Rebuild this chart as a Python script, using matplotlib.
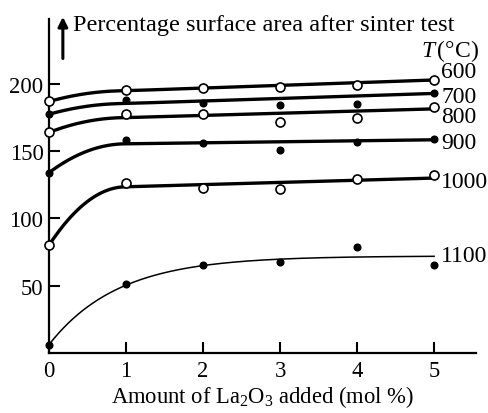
import numpy as np
import matplotlib
matplotlib.use("Agg")
import matplotlib.pyplot as plt

plt.rcParams["font.family"] = ["Liberation Serif", "DejaVu Serif"]
plt.rcParams["mathtext.fontset"] = "custom"
plt.rcParams["mathtext.rm"] = "Liberation Serif"
plt.rcParams["mathtext.it"] = "Liberation Serif:italic"

# La2O3 additions (mol %)
x_pts = [0, 1, 2, 3, 4, 5]
temps = ["600", "700", "800", "900", "1000", "1100"]

# measured surface area (%) after sintering at each temperature
s600 = [187, 195.5, 197, 198, 199.5, 203]
s700 = [177.5, 188, 186, 184.5, 185, 193]
s800 = [164, 178, 177.5, 172, 175, 183]
s900 = [134, 158.5, 156, 151, 156.5, 159]
s1000 = [80, 126.5, 122.5, 121.5, 129, 132]
s1100 = [6, 51, 65.5, 67.5, 79, 65]
series = [s600, s700, s800, s900, s1000, s1100]
open_marker = [True, False, True, False, True, False]

# fitted trend: value at 0, value at 1, value at 5
fit_start = [187, 177.5, 164, 134, 80]
fit_knee = [195, 185.5, 175, 155.5, 123.5]
fit_end = [203, 193, 181.5, 158.5, 130]
# saturating fit for 1100 °C: start, plateau, decay length
fit1100 = (6, 72, 0.9)


def trend(y0, y1, y5, xs, p=2.0):
    xs = np.asarray(xs, float)
    rise = y0 + (y1 - y0) * (1 - np.clip(1 - xs, 0, 1) ** p)
    slope = (y5 - y1) / 4.0
    return np.where(xs <= 1, rise, y1 + slope * (xs - 1))


fig = plt.figure(figsize=(4.88, 4.14), dpi=100)
ax = fig.add_axes([49 / 488, 60.3 / 414, 426.7 / 488, 333.7 / 414])
ax.set_xlim(0, 5.54)
ax.set_ylim(0, 248.4)
for side in ("top", "right"):
    ax.spines[side].set_visible(False)
for side in ("left", "bottom"):
    ax.spines[side].set_linewidth(1.6)

xx = np.linspace(0, 5, 400)
for i in range(5):
    ax.plot(xx, trend(fit_start[i], fit_knee[i], fit_end[i], xx),
            color="black", lw=2.4, solid_capstyle="round", zorder=2)
y0, ya, tau = fit1100
ax.plot(xx, ya - (ya - y0) * np.exp(-xx / tau), color="black", lw=1.1, zorder=2)

for vals, is_open in zip(series, open_marker):
    if is_open:
        ax.plot(x_pts, vals, "o", ms=6.5, mfc="white", mec="black", mew=1.2,
                zorder=4, clip_on=False)
    else:
        ax.plot(x_pts, vals, "o", ms=4.8, mfc="black", mec="black",
                zorder=4, clip_on=False)

label_y = [209, 190.5, 175.5, 156.7, 127.6, 72.2]
for t, ly in zip(temps, label_y):
    ax.text(5.09, ly, t, fontsize=17, va="center", ha="left")
ax.text(4.83, 225, "$T\\,$(°C)", fontsize=17, va="center", ha="left")

ax.set_xticks(x_pts)
ax.set_yticks([50, 100, 150, 200])
ax.tick_params(direction="in", length=8, width=1.5, labelsize=16.3)
ax.tick_params(axis="x", pad=5)
ax.tick_params(axis="y", pad=4)
ax.set_xlabel("Amount of La$_2$O$_3$ added (mol %)", fontsize=16.3, labelpad=2)

# vertical arrow next to the y axis title
ax.annotate("", xy=(0.18, 250), xytext=(0.18, 219),
            arrowprops=dict(arrowstyle="-|>", lw=2.2, color="black",
                            mutation_scale=14, shrinkA=0, shrinkB=0),
            annotation_clip=False)
ax.text(0.31, 244, "Percentage surface area after sinter test", fontsize=17.5,
        va="center", ha="left")

fig.savefig("out.png", dpi=100)
